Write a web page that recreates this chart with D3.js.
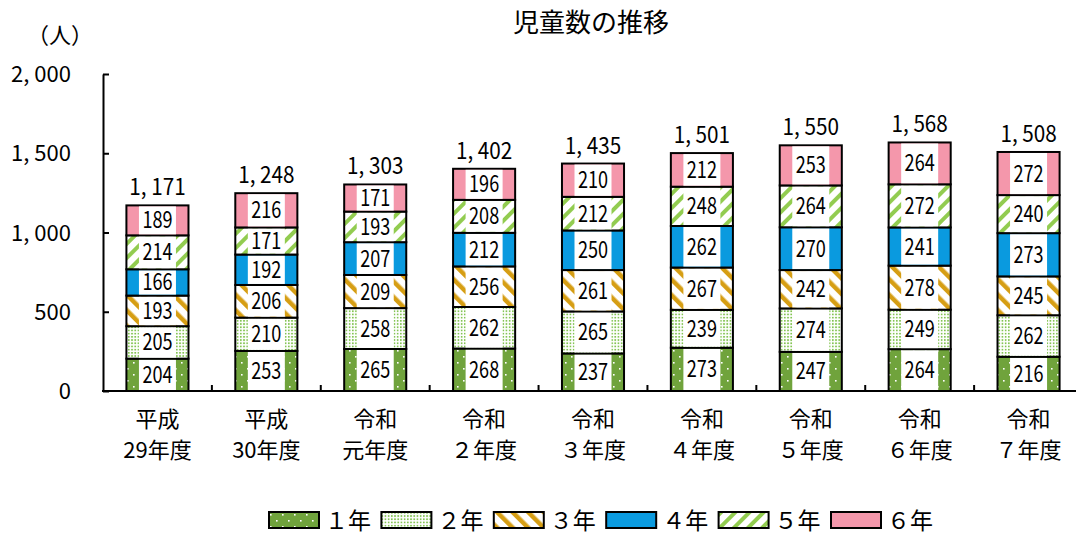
<!DOCTYPE html>
<html>
<head>
<meta charset="utf-8">
<script src="https://cdn.jsdelivr.net/npm/d3@7"></script>
<style>
  body { margin: 0; background: #fff; }
  text { font-family: "Noto Sans CJK JP", "Noto Sans", sans-serif; fill: #000; }
</style>
</head>
<body>
<div id="chart"></div>
<script>
const categories = [["平成", "29年度"], ["平成", "30年度"], ["令和", "元年度"], ["令和", "２年度"],
                    ["令和", "３年度"], ["令和", "４年度"], ["令和", "５年度"], ["令和", "６年度"], ["令和", "７年度"]];
const grades = ["１年", "２年", "３年", "４年", "５年", "６年"];
const grade1 = [204, 253, 265, 268, 237, 273, 247, 264, 216];
const grade2 = [205, 210, 258, 262, 265, 239, 274, 249, 262];
const grade3 = [193, 206, 209, 256, 261, 267, 242, 278, 245];
const grade4 = [166, 192, 207, 212, 250, 262, 270, 241, 273];
const grade5 = [214, 171, 193, 208, 212, 248, 264, 272, 240];
const grade6 = [189, 216, 171, 196, 210, 212, 253, 264, 272];
const totals = [1171, 1248, 1303, 1402, 1435, 1501, 1550, 1568, 1508];
const yTicks = [0, 500, 1000, 1500, 2000];

const series = [grade1, grade2, grade3, grade4, grade5, grade6];
const W = 1076, H = 536;

const svg = d3.select("#chart").append("svg")
  .attr("width", W).attr("height", H);

// fill patterns
const defs = svg.append("defs");
function pat(id, w, h, build, tf) {
  const p = defs.append("pattern").attr("id", id)
    .attr("patternUnits", "userSpaceOnUse").attr("width", w).attr("height", h);
  if (tf) p.attr("patternTransform", tf);
  build(p);
}
pat("p1", 12, 12, p => {
  p.append("rect").attr("width", 12).attr("height", 12).attr("fill", "#70A33C");
  p.append("rect").attr("x", 1).attr("y", 2).attr("width", 1.6).attr("height", 1.6).attr("fill", "#fff");
  p.append("rect").attr("x", 7).attr("y", 8).attr("width", 1.6).attr("height", 1.6).attr("fill", "#fff");
});
pat("p2", 3.2, 3.2, p => {
  p.append("rect").attr("width", 3.2).attr("height", 3.2).attr("fill", "#fff");
  p.append("rect").attr("width", 1.7).attr("height", 1.7).attr("fill", "#84C453");
});
pat("p3", 11, 11, p => {
  p.append("rect").attr("width", 11).attr("height", 11).attr("fill", "#fff");
  p.append("rect").attr("width", 4.5).attr("height", 11).attr("fill", "#D69E14");
}, "rotate(-45)");
pat("p4", 4, 4, p => {
  p.append("rect").attr("width", 4).attr("height", 4).attr("fill", "#0A9ADF");
});
pat("p5", 10, 10, p => {
  p.append("rect").attr("width", 10).attr("height", 10).attr("fill", "#fff");
  p.append("rect").attr("width", 4).attr("height", 10).attr("fill", "#92CC50");
}, "rotate(45)");
pat("p6", 4, 4, p => {
  p.append("rect").attr("width", 4).attr("height", 4).attr("fill", "#F497AB");
});
const fills = ["url(#p1)", "url(#p2)", "url(#p3)", "url(#p4)", "url(#p5)", "url(#p6)"];

const x = d3.scaleBand()
  .domain(d3.range(categories.length))
  .range([103, 1083])
  .paddingInner(0.43).paddingOuter(0.215);
const y = d3.scaleLinear().domain([0, 2000]).range([391, 74]);

// stacking
const table = categories.map((c, i) => {
  const row = { i: i };
  series.forEach((s, k) => row["g" + k] = s[i]);
  return row;
});
const stack = d3.stack().keys(series.map((s, k) => "g" + k))(table);

const layers = svg.append("g").selectAll("g").data(stack).enter().append("g")
  .attr("fill", (d, k) => fills[k]);

layers.selectAll("rect").data(d => d).enter().append("rect")
  .attr("x", d => x(d.data.i))
  .attr("width", x.bandwidth())
  .attr("y", d => y(d[1]))
  .attr("height", d => y(d[0]) - y(d[1]))
  .attr("stroke", "#000").attr("stroke-width", 2);

// value labels with white boxes
const labelW = 37;
layers.each(function(layer, k) {
  const g = d3.select(this);
  layer.forEach(d => {
    const cx = x(d.data.i) + x.bandwidth() / 2;
    const h = y(d[0]) - y(d[1]);
    g.append("rect")
      .attr("x", cx - labelW / 2)
      .attr("y", y(d[1]) + 1)
      .attr("width", labelW)
      .attr("height", h - 2)
      .attr("fill", "#fff");
    g.append("text")
      .attr("transform", `translate(${cx},${(y(d[0]) + y(d[1])) / 2 + 8}) scale(0.77,1)`)
      .attr("text-anchor", "middle")
      .attr("font-size", 23.5)
      .text(d.data["g" + k]);
  });
});

// totals
const fmt = v => d3.format(",")(v).replace(",", ", ");
svg.append("g").selectAll("text").data(totals).enter().append("text")
  .attr("transform", (d, i) => `translate(${x(i) + x.bandwidth() / 2},${y(d) - 10}) scale(0.9,1)`)
  .attr("text-anchor", "middle")
  .attr("font-size", 23)
  .text(d => fmt(d));

// y axis
const yAxis = svg.append("g").attr("transform", "translate(103,0)")
  .call(d3.axisLeft(y).tickValues(yTicks).tickSizeInner(-6).tickSizeOuter(0).tickPadding(32)
    .tickFormat(d => fmt(d)));
yAxis.select(".domain").attr("stroke", "#000").attr("stroke-width", 2);
yAxis.selectAll(".tick line").attr("stroke", "#000").attr("stroke-width", 2);
yAxis.selectAll(".tick text")
  .attr("font-family", null).attr("font-size", 22)
  .attr("dy", "0.35em");

// x axis
const xAxis = svg.append("g").attr("transform", "translate(0,391)");
xAxis.append("line").attr("x1", 102).attr("x2", W).attr("stroke", "#000").attr("stroke-width", 2);
xAxis.selectAll(".sep").data(d3.range(1, categories.length)).enter().append("line")
  .attr("x1", i => 103 + i * x.step()).attr("x2", i => 103 + i * x.step())
  .attr("y1", 0).attr("y2", -6).attr("stroke", "#000").attr("stroke-width", 2);
const xl = xAxis.selectAll(".cat").data(categories).enter().append("text")
  .attr("text-anchor", "middle")
  .attr("font-size", 22)
  .attr("transform", (d, i) => `translate(${x(i) + x.bandwidth() / 2},0)`);
xl.append("tspan").attr("x", 0).attr("y", 36).text(d => d[0]);
xl.append("tspan").attr("x", 0).attr("y", 67).text(d => d[1]);

// titles
svg.append("text").attr("x", 591).attr("y", 32).attr("text-anchor", "middle")
  .attr("font-size", 26).text("児童数の推移");
svg.append("text").attr("x", 60).attr("y", 43).attr("text-anchor", "middle")
  .attr("font-size", 22).text("（人）");

// legend
const legend = svg.append("g").selectAll("g").data(grades).enter().append("g")
  .attr("transform", (d, k) => `translate(${269 + k * 112.4},512)`);
legend.append("rect").attr("width", 50).attr("height", 16)
  .attr("fill", (d, k) => fills[k]).attr("stroke", "#000").attr("stroke-width", 2);
legend.append("text").attr("x", 56).attr("y", 17).attr("font-size", 23).text(d => d);
</script>
</body>
</html>
